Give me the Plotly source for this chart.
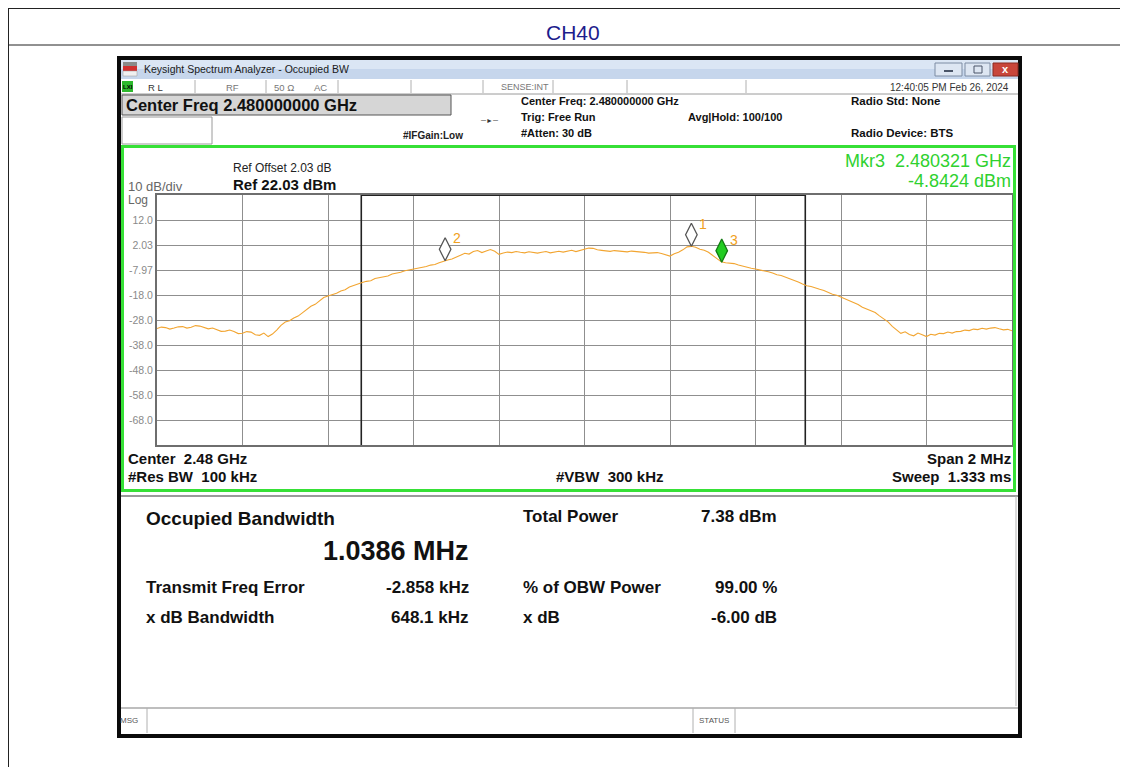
import plotly.graph_objects as go

# ---------------- data ----------------
center_ghz = 2.48
span_mhz = 2.0
ref_level = 22.03
db_per_div = 10.0
freq_khz = list(range(-1000, 1001, 10))
amp_dbm = [
    -31.4, -30.8, -31.0, -31.6, -31.2, -30.7, -30.6, -31.2, -30.9, -30.2,   # -1000
    -30.4, -31.0, -31.5, -31.2, -31.9, -32.5, -32.4, -32.0, -32.6, -33.4,   # -900
    -33.3, -32.6, -32.8, -33.9, -34.1, -33.2, -34.6, -33.6, -32.0, -30.1,   # -800
    -28.8, -28.3, -27.2, -26.4, -25.1, -23.6, -22.5, -21.7, -20.4, -19.0,   # -700
    -18.4, -18.0, -17.3, -16.4, -15.9, -14.8, -14.1, -13.7, -13.0, -12.5,   # -600
    -12.3, -11.4, -11.0, -10.9, -10.4, -9.6, -9.3, -8.9, -8.3, -8.0,        # -500
    -7.7, -7.4, -6.8, -6.6, -6.0, -5.8, -5.1, -4.4, -4.0, -3.6,             # -400
    -2.8, -1.8, -1.3, -1.6, -0.6, -0.2, -1.0, -0.4, 0.2, -0.5,              # -300
    -1.7, -1.2, -0.8, -1.0, -0.6, -0.9, -1.1, -0.7, -0.8, -1.2,             # -200
    -0.9, -0.6, -1.1, -0.9, -0.5, -0.8, -0.3, -0.1, -0.6, -0.2,             # -100
    0.4, 0.8, 0.7, 0.1, -0.1, -0.4, -0.5, -0.2, -0.3, -0.6,                 # 0
    -0.7, -0.4, -0.5, -0.8, -0.9, -1.2, -1.1, -1.0, -1.4, -2.0,             # 100
    -2.4, -1.5, -0.9, 0.1, 1.3, 1.5, 1.1, 0.3, -0.1, -0.9,                  # 200
    -2.2, -3.6, -4.7, -5.1, -5.3, -5.4, -6.0, -6.5, -6.8, -7.3,             # 300
    -7.6, -7.9, -8.5, -8.7, -9.2, -9.9, -10.2, -10.8, -11.6, -12.1,         # 400
    -12.8, -13.6, -14.3, -14.6, -15.3, -15.7, -16.2, -17.1, -17.7, -18.1,   # 500
    -18.8, -19.7, -20.3, -21.0, -21.8, -22.9, -23.5, -24.1, -25.0, -26.3,   # 600
    -27.4, -28.7, -30.5, -31.8, -33.3, -32.7, -33.8, -34.3, -33.2, -33.9,   # 700
    -34.6, -33.7, -34.0, -33.3, -33.4, -32.8, -33.2, -32.6, -32.5, -32.0,   # 800
    -32.2, -31.6, -31.8, -31.3, -31.6, -31.2, -31.0, -31.5, -31.9, -31.7,   # 900
    -32.3,                                                                  # 1000
]
marker_names = ["1", "2", "3"]
marker_freq_khz = [250, -326, 321]
marker_amp_dbm = [1.5, -4.3, -4.84]
marker_active = [False, False, True]
obw_mhz = 1.0386
freq_error_khz = -2.858
ytick_labels = ["12.0", "2.03", "-7.97", "-18.0", "-28.0", "-38.0", "-48.0", "-58.0", "-68.0"]

# ---------------- layout helpers ----------------
OFF = 8                      # page body margin of the html page
W, H = 1120, 759             # figure size so that it fits the window
GX0, GX1, GY0, GY1 = 157, 1012, 195, 445   # grid area in page pixels
FONT = "Liberation Sans, Arial, sans-serif"

def X(p):
    return (p - OFF) / W

def Y(p):
    return 1 - (p - OFF) / H

shapes = []
annotations = []

def rect(x0, y0, x1, y1, fill=None, line=None, lw=1, layer="below"):
    shapes.append(dict(type="rect", xref="paper", yref="paper",
                       x0=X(x0), x1=X(x1), y0=Y(y1), y1=Y(y0),
                       fillcolor=fill if fill else "rgba(0,0,0,0)",
                       line=dict(color=line if line else "rgba(0,0,0,0)", width=lw if line else 0),
                       layer=layer))

def seg(x0, y0, x1, y1, color, lw=1, layer="below"):
    shapes.append(dict(type="line", xref="paper", yref="paper",
                       x0=X(x0), x1=X(x1), y0=Y(y0), y1=Y(y1),
                       line=dict(color=color, width=lw), layer=layer))

def txt(x, y, s, size, color="#1a1a1a", bold=False, anchor="left", family=FONT):
    annotations.append(dict(xref="paper", yref="paper", x=X(x), y=Y(y),
                            text=("<b>%s</b>" % s) if bold else s,
                            showarrow=False, xanchor=anchor, yanchor="middle",
                            borderpad=0,
                            font=dict(family=family, size=size, color=color)))

# ---------------- page frame ----------------
seg(8.5, 8.5, 1128, 8.5, "#222", 1)
seg(8.5, 45, 1128, 45, "#222", 1)
seg(8.5, 8, 8.5, 767, "#222", 1)
txt(573, 33, "CH40", 21, "#1c1c8c", anchor="center")

# ---------------- window ----------------
rect(117, 56, 1022, 738, fill="#0a0a0a")
rect(121, 60, 1018, 734, fill="#ffffff")
rect(121, 60, 1018, 69, fill="#dbe6f4")
rect(121, 69, 1018, 79, fill="#c6d6ec")
# app icon
rect(123, 62, 137, 66, fill="#8a8a8a")
rect(123, 66, 137, 71, fill="#d03030")
rect(123, 71, 137, 76, fill="#f0f0f0", line="#999", lw=0.5)
txt(143, 69, "Keysight Spectrum Analyzer - Occupied BW", 10.5, "#1a1a1a")
# window buttons
rect(935, 63, 962, 76, fill="#dde6f2", line="#7d8ca3")
rect(965, 63, 990, 76, fill="#dde6f2", line="#7d8ca3")
rect(993, 63, 1018, 76, fill="#c8463b", line="#8a2a22")
seg(944, 71, 953, 71, "#4a5568", 2)
rect(974, 66, 982, 73, line="#4a5568", lw=1)
txt(1005.5, 69, "x", 11, "#ffffff", bold=True, anchor="center")

# status row
seg(121, 94, 1018, 94, "#9a9a9a", 1)
for sx in [195, 266, 338, 411, 483, 553, 627, 746]:
    seg(sx, 80, sx, 93, "#b0b0b0", 1)
rect(122, 81, 133, 92, fill="#2db82d")
txt(127.5, 86.5, "LXI", 6, "#000", bold=True, anchor="center")
txt(147, 87, "R L", 9.5, "#333")
txt(225, 87, "RF", 9.5, "#777")
txt(273, 87, "50 Ω", 9.5, "#777")
txt(313, 87, "AC", 9.5, "#777")
txt(500, 87, "SENSE:INT", 9, "#777")
txt(1010, 87, "12:40:05 PM Feb 26, 2024", 10, "#333", anchor="right")

# info area
rect(122, 95, 451, 115, fill="#d6d6d6", line="#555", lw=1)
txt(125, 105, "Center Freq 2.480000000 GHz", 16.5, "#111", bold=True)
rect(122, 117, 212, 144, fill="#ffffff", line="#9a9a9a", lw=1)
txt(402, 135, "#IFGain:Low", 10, "#222", bold=True)
txt(489, 121, "─►─", 7, "#333", anchor="center")
txt(520, 101, "Center Freq: 2.480000000 GHz", 11, "#111", bold=True)
txt(520, 117, "Trig: Free Run", 11, "#111", bold=True)
txt(520, 133, "#Atten: 30 dB", 11, "#111", bold=True)
txt(687, 117, "Avg|Hold: 100/100", 11, "#111", bold=True)
txt(850, 101, "Radio Std: None", 11.5, "#111", bold=True)
txt(850, 133, "Radio Device: BTS", 11.5, "#111", bold=True)

# plot panel texts
txt(232, 168, "Ref Offset 2.03 dB", 12, "#222")
txt(232, 184, "Ref 22.03 dBm", 15, "#111", bold=True)
txt(127, 186, "10 dB/div", 13, "#666")
txt(127, 200, "Log", 12, "#666")
txt(1012, 161, "Mkr3  2.480321 GHz", 18, "#2fd12f", anchor="right")
txt(1012, 181, "-4.8424 dBm", 18, "#2fd12f", anchor="right")
txt(127, 458, "Center  2.48 GHz", 15, "#111", bold=True)
txt(127, 477, "#Res BW  100 kHz", 15, "#111", bold=True)
txt(555, 477, "#VBW  300 kHz", 15, "#111", bold=True)
txt(1012, 458, "Span 2 MHz", 15, "#111", bold=True, anchor="right")
txt(1012, 477, "Sweep  1.333 ms", 15, "#111", bold=True, anchor="right")
rect(122.5, 146.5, 1014.5, 490.5, line="#36e036", lw=3, layer="above")
seg(121, 496, 1018, 496, "#9a9a9a", 2)
seg(1016, 496, 1016, 706, "#b5b5b5", 1)

# results panel
txt(145, 518, "Occupied Bandwidth", 19, "#111", bold=True)
txt(470, 551, "%.4f MHz" % obw_mhz, 27, "#111", bold=True, anchor="right")
txt(145, 587, "Transmit Freq Error", 17, "#111", bold=True)
txt(470, 587, "%.3f kHz" % freq_error_khz, 17, "#111", bold=True, anchor="right")
txt(145, 617, "x dB Bandwidth", 17, "#111", bold=True)
txt(470, 617, "648.1 kHz", 17, "#111", bold=True, anchor="right")
txt(522, 516, "Total Power", 17, "#111", bold=True)
txt(778, 516, "7.38 dBm", 17, "#111", bold=True, anchor="right")
txt(522, 587, "% of OBW Power", 17, "#111", bold=True)
txt(778, 587, "99.00 %", 17, "#111", bold=True, anchor="right")
txt(522, 617, "x dB", 17, "#111", bold=True)
txt(778, 617, "-6.00 dB", 17, "#111", bold=True, anchor="right")

# bottom status bar
seg(121, 708, 1018, 708, "#a8a8a8", 1.5)
for sx in [147, 693, 735]:
    seg(sx, 708, sx, 733, "#b0b0b0", 1)
txt(119, 720, "MSG", 8, "#555")
txt(714, 720, "STATUS", 8, "#555", anchor="center")

# ---------------- data derived geometry ----------------
f_ghz = [center_ghz + f / 1e6 for f in freq_khz]
x_lo = center_ghz - span_mhz / 2000
x_hi = center_ghz + span_mhz / 2000
y_hi = ref_level
y_lo = ref_level - 10 * db_per_div
ytick_vals = [ref_level - db_per_div * (k + 1) for k in range(9)]

# OBW edge lines
obw_lo = center_ghz + (freq_error_khz / 1e3 - obw_mhz / 2) / 1e3
obw_hi = center_ghz + (freq_error_khz / 1e3 + obw_mhz / 2) / 1e3
for xv in (obw_lo, obw_hi):
    shapes.append(dict(type="line", xref="x", yref="y", x0=xv, x1=xv, y0=y_lo, y1=y_hi + 0.8,
                       line=dict(color="#222", width=1.6), layer="between"))
shapes.append(dict(type="line", xref="x", yref="y", x0=obw_lo, x1=obw_hi, y0=y_hi, y1=y_hi,
                   line=dict(color="#222", width=2.2), layer="above"))

# diamond marker placement (tip touches trace)
marker_size = 16.5
px_per_db = (GY1 - GY0) / (y_hi - y_lo)
half_h_px = marker_size / 2 * 1.4
offset_db = half_h_px / px_per_db
mk_x = [center_ghz + f / 1e6 for f in marker_freq_khz]
mk_y = [a + offset_db for a in marker_amp_dbm]
mk_fill = ["#22cc22" if a else "#ffffff" for a in marker_active]
mk_line = ["#127a12" if a else "#555555" for a in marker_active]
for name, xv, yv in zip(marker_names, mk_x, mk_y):
    annotations.append(dict(xref="x", yref="y", x=xv, y=yv, text=name, showarrow=False,
                            xshift=12, yshift=11, xanchor="center", yanchor="middle",
                            font=dict(family=FONT, size=14, color="#f0a020")))

fig = go.Figure()
fig.add_trace(go.Scatter(x=f_ghz, y=amp_dbm, mode="lines",
                         line=dict(color="#f2a531", width=1.1), hoverinfo="skip"))
fig.add_trace(go.Scatter(x=mk_x, y=mk_y, mode="markers",
                         marker=dict(symbol="diamond-tall", size=marker_size, color=mk_fill,
                                     line=dict(color=mk_line, width=1.3)),
                         hoverinfo="skip"))

fig.update_layout(
    width=W, height=H, autosize=False,
    margin=dict(l=0, r=0, t=0, b=0),
    paper_bgcolor="#ffffff", plot_bgcolor="#ffffff",
    showlegend=False,
    shapes=shapes, annotations=annotations,
    xaxis=dict(domain=[X(GX0), X(GX1)], range=[x_lo, x_hi], tick0=x_lo, dtick=span_mhz / 10000,
               showgrid=True, gridcolor="#8f8f8f", gridwidth=1.3, showticklabels=False,
               zeroline=False, showline=True, mirror=True, linecolor="#6e6e6e", linewidth=2,
               ticks="", fixedrange=True),
    yaxis=dict(domain=[Y(GY1), Y(GY0)], range=[y_lo, y_hi], tickvals=ytick_vals, ticktext=ytick_labels,
               showgrid=True, gridcolor="#8f8f8f", gridwidth=1.3, zeroline=False,
               showline=True, mirror=True, linecolor="#6e6e6e", linewidth=2, ticks="",
               tickfont=dict(family=FONT, size=10.5, color="#8a8a8a"), fixedrange=True),
    font=dict(family=FONT),
)

fig.write_html("out.html")
